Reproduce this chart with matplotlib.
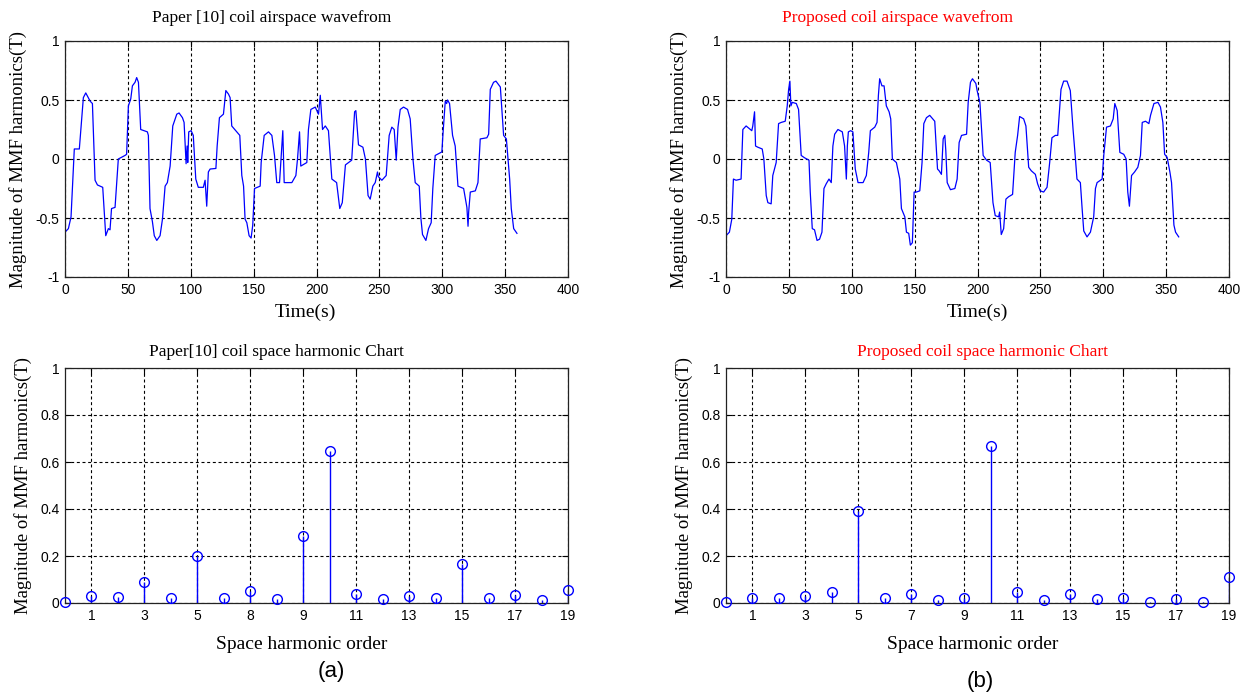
import matplotlib
matplotlib.use("Agg")
import matplotlib.pyplot as plt
import numpy as np

# ---------------- data ----------------
# Paper [10] coil airspace waveform (time, magnitude)
t_paper = [0, 2.7, 4.8, 7.4, 11.4, 14.6, 16.5, 20, 21.8, 23.9, 25.8, 30, 32.4, 34.5, 35.8, 37, 39.8,
           42.4, 47.7, 49, 50.4, 52.3, 53.6, 55.7, 57, 58.4, 60.2, 65.5, 66.3, 67.6, 69.5, 71, 73,
           75.6, 77.5, 79.6, 81.4, 83.6, 85.7, 88.9, 90.7, 93.4, 94.7, 96.3, 97.1, 97.6, 98.4, 100.3,
           102, 104, 106, 110, 111.4, 112.7, 114, 115.4, 120, 121, 122.8, 126, 127.9, 130, 131.3,
           132.6, 136.6, 139, 140.6, 142, 143.2, 144.6, 146.4, 148, 149.3, 150.7, 155.2, 156, 158.4,
           161.8, 164.5, 166.6, 168.4, 170.6, 173.2, 174.3, 180.4, 183.6, 184.9, 186.5, 187.5, 192.3,
           193.6, 195.5, 199, 201.6, 203, 204.8, 207, 209.5, 212.2, 216, 218.5, 220.5, 223, 228,
           230.3, 231.3, 233.4, 236.9, 238.9, 241, 242.7, 244.8, 246.7, 248.5, 249.2, 252, 255.4,
           257.8, 259.9, 261.8, 263.4, 264.8, 266.6, 269.2, 272.4, 274.5, 276.7, 278.5, 281.7, 283,
           284.3, 287, 289.1, 291.2, 292.5, 294.4, 299.7, 300.5, 302.4, 303.5, 304.2, 305.8, 308.2,
           310.3, 312.5, 317, 319.6, 320.5, 321, 322.3, 326.3, 328.4, 330.2, 335.5, 336.9, 338.2,
           340.8, 342.7, 346.2, 348.8, 351, 353.6, 354.9, 356.8, 359.4]
v_paper = [-0.62, -0.59, -0.49, 0.085, 0.085, 0.52, 0.56, 0.49, 0.47, -0.18, -0.22, -0.24, -0.65, -0.59, -0.6, -0.42, -0.41,
           0.0, 0.03, 0.04, 0.45, 0.51, 0.62, 0.65, 0.69, 0.65, 0.25, 0.23, 0.2, -0.42, -0.53, -0.65, -0.69,
           -0.65, -0.51, -0.23, -0.2, -0.06, 0.28, 0.38, 0.39, 0.35, 0.31, -0.04, 0.11, -0.03, 0.23, 0.24,
           0.2, -0.17, -0.24, -0.24, -0.18, -0.4, -0.11, -0.085, -0.08, 0.11, 0.35, 0.38, 0.58, 0.55, 0.52,
           0.28, 0.23, 0.2, -0.14, -0.23, -0.51, -0.54, -0.65, -0.67, -0.56, -0.25, -0.23, -0.03, 0.2,
           0.23, 0.2, 0.03, -0.2, -0.2, 0.24, -0.2, -0.2, -0.14, 0.0, 0.23, -0.06, -0.03,
           0.25, 0.42, 0.44, 0.38, 0.54, 0.25, 0.28, 0.24, -0.17, -0.2, -0.42, -0.37, -0.05, -0.01,
           0.4, 0.41, 0.12, 0.1, 0.0, -0.31, -0.34, -0.23, -0.2, -0.11, -0.15, -0.18, -0.14,
           0.2, 0.27, 0.25, -0.01, 0.27, 0.42, 0.44, 0.42, 0.34, 0.0, -0.2, -0.23, -0.5,
           -0.64, -0.69, -0.59, -0.54, -0.25, 0.03, 0.06, 0.2, 0.49, 0.47, 0.5, 0.47, 0.2,
           0.11, -0.23, -0.25, -0.41, -0.57, -0.45, -0.28, -0.27, -0.2, 0.17, 0.18, 0.21, 0.59,
           0.65, 0.66, 0.61, 0.2, 0.17, -0.17, -0.42, -0.59, -0.63]

# Proposed coil airspace waveform (time, magnitude)
t_prop = [0, 2.7, 4.6, 5.9, 8, 12, 13.4, 16, 20.5, 21.3, 22.7, 23.5, 25.3, 28.8, 30.1, 32, 33.3, 35.9,
          37.2, 39.9, 41.8, 43.9, 47.1, 48.7, 49.8, 50.8, 51.6, 52.7, 55.9, 57.7, 59.8, 62.5, 66, 67,
          68.6, 70.4, 72.4, 74.4, 76.3, 77.9, 79.7, 81.9, 83.7, 85, 86.4, 89, 92.5, 94.3, 95.7, 96.5,
          97.3, 99.1, 100.9, 102.8, 105, 109, 111.6, 113.5, 114.8, 118.3, 120.1, 121.2, 122.2, 124,
          125.7, 127.5, 129.7, 131, 132.3, 135.5, 138.2, 139.5, 142.2, 143.5, 145.3, 146.6, 148.2,
          149.6, 151.4, 154.1, 155.9, 157.3, 159.4, 162, 166, 168.2, 169.5, 171.3, 172.7, 174, 174.8,
          175.9, 178.5, 182, 183.8, 185.4, 187.3, 191.3, 192.6, 194.4, 196, 198.7, 199.7, 201.9,
          204.5, 207.2, 210.1, 212.3, 214.1, 216.8, 217.6, 218.9, 220.8, 222.6, 224.7, 227.9, 230,
          231.9, 233.5, 236.7, 238.5, 240.7, 242.8, 246, 247.8, 249.9, 252.6, 255.3, 257.4, 259.2,
          261.9, 263.8, 265.1, 266.4, 268.5, 271.2, 273.8, 276, 277.9, 279.1, 281.8, 283.2, 284.5,
          287.1, 289.8, 292.4, 293.8, 295.1, 299.1, 300.4, 302.6, 305.7, 307.9, 309.2, 311.1, 313.2,
          316.3, 318.2, 319.5, 320.8, 322.5, 324.9, 327.5, 329.6, 331, 333.6, 336.3, 337.6, 340.3,
          343.5, 345.5, 347.4, 348.8, 350.8, 353, 354.3, 356.2, 357.5, 360]
v_prop = [-0.65, -0.62, -0.51, -0.17, -0.18, -0.17, 0.25, 0.28, 0.24, 0.28, 0.4, 0.11, 0.1, 0.085, 0.0, -0.31, -0.37, -0.38,
          -0.14, -0.03, 0.3, 0.31, 0.32, 0.45, 0.59, 0.66, 0.45, 0.48, 0.47, 0.42, 0.03, 0.01, -0.01, -0.28,
          -0.59, -0.6, -0.69, -0.68, -0.62, -0.25, -0.21, -0.17, -0.2, 0.11, 0.21, 0.25, 0.23, 0.11, -0.17, 0.11,
          0.23, 0.24, 0.23, -0.085, -0.2, -0.2, -0.14, 0.056, 0.24, 0.27, 0.31, 0.54, 0.68, 0.62,
          0.62, 0.45, 0.4, 0.34, 0.0, -0.03, -0.17, -0.42, -0.49, -0.62, -0.63, -0.73, -0.71,
          -0.28, -0.28, -0.27, -0.03, 0.3, 0.35, 0.37, 0.32, -0.085, -0.1, -0.13, 0.17, 0.2, 0.07,
          -0.2, -0.26, -0.25, -0.17, 0.14, 0.2, 0.21, 0.48, 0.65, 0.68, 0.64, 0.58, 0.48,
          0.03, -0.01, -0.03, -0.37, -0.48, -0.49, -0.45, -0.64, -0.59, -0.34, -0.32, -0.3, 0.056,
          0.2, 0.36, 0.34, 0.28, -0.07, -0.1, -0.13, -0.21, -0.27, -0.28, -0.24, -0.03, 0.18,
          0.2, 0.2, 0.4, 0.59, 0.66, 0.66, 0.58, 0.25, 0.0, -0.17, -0.2, -0.42, -0.61,
          -0.66, -0.62, -0.49, -0.25, -0.2, -0.17, 0.03, 0.27, 0.28, 0.34, 0.47, 0.41, 0.056,
          0.04, 0.0, -0.28, -0.4, -0.14, -0.11, -0.07, 0.03, 0.31, 0.32, 0.3, 0.37, 0.47,
          0.48, 0.44, 0.31, 0.04, 0.014, -0.11, -0.2, -0.56, -0.62, -0.66]

# space harmonic spectra
harm_order = list(range(20))
harm_paper = [0.006, 0.028, 0.024, 0.089, 0.02, 0.198, 0.02, 0.052, 0.016, 0.286,
              0.645, 0.038, 0.016, 0.028, 0.02, 0.165, 0.02, 0.033, 0.011, 0.057]
harm_prop = [0.006, 0.02, 0.02, 0.028, 0.048, 0.393, 0.02, 0.038, 0.011, 0.02,
             0.668, 0.048, 0.011, 0.038, 0.016, 0.02, 0.006, 0.016, 0.006, 0.112]

harm_tick_pos = [1, 3, 5, 7, 9, 11, 13, 15, 17, 19]
harm_ticklabels_paper = ["1", "3", "5", "8", "9", "11", "13", "15", "17", "19"]
harm_ticklabels_prop = ["1", "3", "5", "7", "9", "11", "13", "15", "17", "19"]

time_ticks = [0, 50, 100, 150, 200, 250, 300, 350, 400]
wave_yticks = [-1, -0.5, 0, 0.5, 1]
wave_yticklabels = ["-1", "-0.5", "0", "0.5", "1"]
harm_yticks = [0, 0.2, 0.4, 0.6, 0.8, 1]
harm_yticklabels = ["0", "0.2", "0.4", "0.6", "0.8", "1"]

# ---------------- style ----------------
SERIF = ["Liberation Serif", "DejaVu Serif"]
SANS = ["Liberation Sans", "DejaVu Sans"]
BLUE = "#0000FF"
RED = "#FF0000"
GRID_KW = dict(color="black", linestyle=(0, (2.7, 2.4)), linewidth=0.8)

fig = plt.figure(figsize=(12.45, 6.94), dpi=100)

W, H = 1245.0, 694.0
def add_ax(x0, y0, x1, y1):
    return fig.add_axes([x0 / W, 1 - y1 / H, (x1 - x0) / W, (y1 - y0) / H])

ax_tl = add_ax(65, 41, 568, 277)
ax_tr = add_ax(726, 41, 1229, 277)
ax_bl = add_ax(65, 368, 568, 603)
ax_br = add_ax(726, 368, 1229, 603)

ylabel = "Magnitude of MMF harmonics(T)"

def style_axes(ax):
    for s in ax.spines.values():
        s.set_color("#222222")
        s.set_linewidth(0.9)
    ax.tick_params(direction="in", length=4, width=0.8, top=True, right=True,
                   labelsize=10, colors="black", pad=4)
    for lab in ax.get_xticklabels() + ax.get_yticklabels():
        lab.set_family(SANS)
    ax.grid(True, **GRID_KW)
    ax.set_axisbelow(True)

# top waveforms
for ax, t, v, title, tcol, tx, lx in [
        (ax_tl, t_paper, v_paper, "Paper [10] coil airspace wavefrom", "black", 0.41, 0.477),
        (ax_tr, t_prop, v_prop, "Proposed coil airspace wavefrom", RED, 0.34, 0.50)]:
    ax.plot(t, v, color=BLUE, linewidth=0.9)
    ax.set_xlim(0, 400)
    ax.set_ylim(-1, 1)
    ax.set_xticks(time_ticks)
    ax.set_xticklabels([str(x) for x in time_ticks])
    ax.set_yticks(wave_yticks)
    ax.set_yticklabels(wave_yticklabels)
    style_axes(ax)
    ax.set_title(title, family=SERIF, fontsize=12.5, color=tcol, pad=14, x=tx)
    ax.set_xlabel("Time(s)", family=SERIF, fontsize=14, labelpad=5, x=lx)
    ax.set_ylabel(ylabel, family=SERIF, fontsize=13.5, labelpad=6)

# bottom spectra
for ax, vals, labels, title, tcol, tx, lx in [
        (ax_bl, harm_paper, harm_ticklabels_paper, "Paper[10] coil space harmonic Chart", "black", 0.42, 0.47),
        (ax_br, harm_prop, harm_ticklabels_prop, "Proposed coil space harmonic Chart", RED, 0.51, 0.49)]:
    ml, sl, bl = ax.stem(harm_order, vals, linefmt="-", markerfmt="o", basefmt=" ")
    plt.setp(sl, color=BLUE, linewidth=1.0)
    plt.setp(ml, markerfacecolor="none", markeredgecolor=BLUE, markersize=7, markeredgewidth=1.0,
             clip_on=False, zorder=5)
    ax.set_xlim(0, 19)
    ax.set_ylim(0, 1)
    ax.set_xticks(harm_tick_pos)
    ax.set_xticklabels(labels)
    ax.set_yticks(harm_yticks)
    ax.set_yticklabels(harm_yticklabels)
    style_axes(ax)
    ax.set_title(title, family=SERIF, fontsize=12.5, color=tcol, pad=9, x=tx)
    ax.set_xlabel("Space harmonic order", family=SERIF, fontsize=14, labelpad=10, x=lx)
    ax.set_ylabel(ylabel, family=SERIF, fontsize=13.5, labelpad=6)

fig.text(331 / W, 1 - 672 / H, "(a)", family=SANS, fontsize=16, ha="center", va="center")
fig.text(980 / W, 1 - 681 / H, "(b)", family=SANS, fontsize=16, ha="center", va="center")

fig.savefig("out.png", dpi=100)
